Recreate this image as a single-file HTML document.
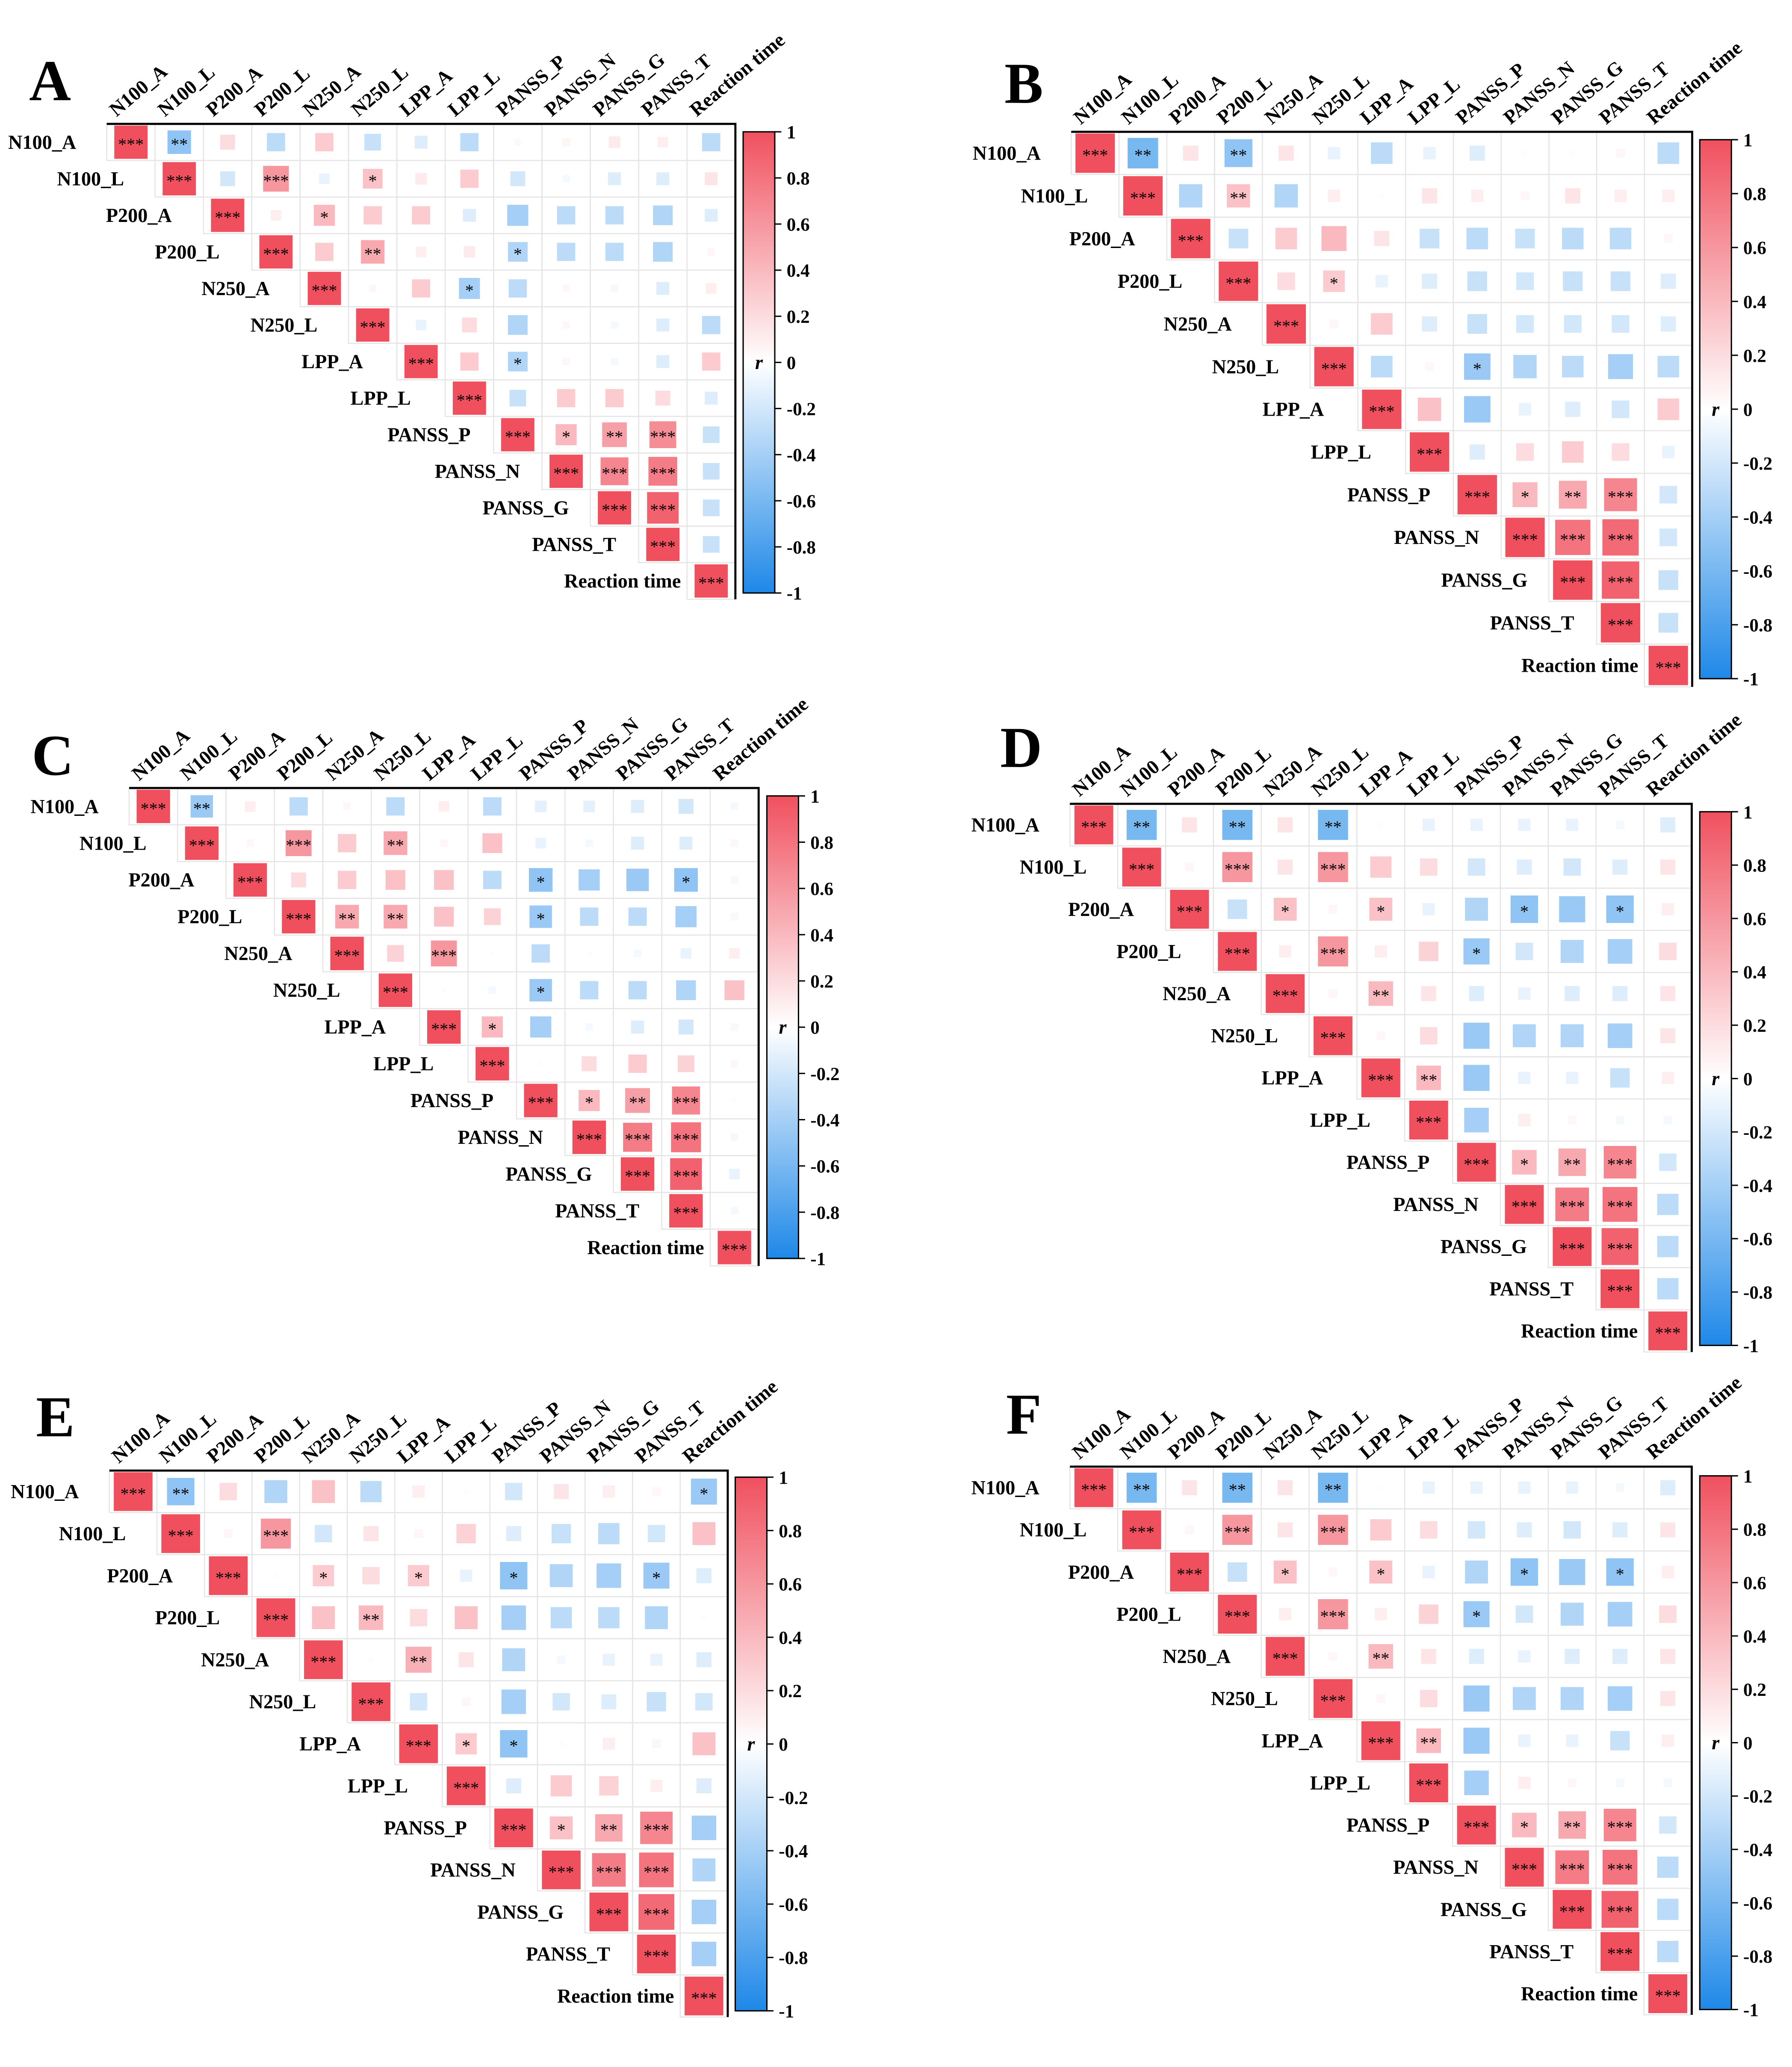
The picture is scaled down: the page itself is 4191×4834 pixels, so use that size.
<!DOCTYPE html>
<html><head><meta charset="utf-8"><style>
html,body{margin:0;padding:0;background:#fff;}
svg{display:block;}
text{font-family:"Liberation Serif",serif;}
</style></head><body>
<svg id="fig" xmlns="http://www.w3.org/2000/svg" width="4191" height="4834" viewBox="0 0 1360 1568.6">
<defs>
<linearGradient id="cbgrad" x1="0" y1="0" x2="0" y2="1">
<stop offset="0" stop-color="#f0505e"/><stop offset="0.5" stop-color="#ffffff"/><stop offset="1" stop-color="#1e88e8"/>
</linearGradient>
</defs>
</svg>
<script>
const variables = ["N100_A","N100_L","P200_A","P200_L","N250_A","N250_L","LPP_A","LPP_L","PANSS_P","PANSS_N","PANSS_G","PANSS_T","Reaction time"];
const colorbarTicks = [1,0.8,0.6,0.4,0.2,0,-0.2,-0.4,-0.6,-0.8,-1];
const panelLetters = ["A","B","C","D","E","F"];

const rA = [
[-0.5,0.2,-0.3,0.3,-0.25,-0.15,-0.3,0.04,0.06,0.12,0.1,-0.3],
[-0.2,0.6,-0.1,0.35,0.12,0.3,-0.2,-0.05,-0.15,-0.15,0.15],
[0.1,0.4,0.3,0.3,-0.15,-0.4,-0.3,-0.3,-0.35,-0.15],
[0.3,0.5,0.1,0.12,-0.35,-0.3,-0.3,-0.35,0.05],
[0.05,0.3,-0.4,-0.3,0.05,-0.05,-0.15,0.1],
[-0.1,0.2,-0.35,0.05,-0.05,-0.15,-0.3],
[0.3,-0.35,0.05,-0.05,-0.15,0.3],
[-0.25,0.3,0.3,0.2,-0.15],
[0.4,0.55,0.65,-0.25],
[0.7,0.75,-0.25],
[0.9,-0.25],
[-0.25]];
const rB = [
[-0.6,0.15,-0.5,0.15,-0.1,-0.3,-0.1,-0.15,0.02,0.02,0.05,-0.3],
[-0.35,0.35,-0.35,0.1,0.02,0.15,0.1,0.05,0.15,0.1,0.1],
[-0.25,0.3,0.4,0.15,-0.25,-0.3,-0.25,-0.3,-0.3,0.05],
[0.2,0.3,-0.1,-0.15,-0.25,-0.2,-0.25,-0.25,-0.15],
[0.05,0.3,-0.15,-0.25,-0.2,-0.2,-0.2,-0.15],
[-0.3,0.05,-0.45,-0.35,-0.3,-0.4,-0.3],
[0.35,-0.45,-0.1,-0.15,-0.2,0.3],
[-0.15,0.2,0.3,0.2,-0.1],
[0.4,0.5,0.7,-0.2],
[0.8,0.85,-0.2],
[0.9,-0.25],
[-0.25]];
const rC = [
[-0.45,0.1,-0.3,0.05,-0.3,0.1,-0.3,-0.12,-0.12,-0.15,-0.2,-0.05],
[0.05,0.6,0.3,0.5,0.05,0.35,-0.1,-0.05,-0.15,-0.15,0.05],
[0.2,0.3,0.35,0.35,-0.3,-0.5,-0.4,-0.45,-0.5,-0.05],
[0.5,0.5,0.35,0.25,-0.45,-0.3,-0.3,-0.4,0.05],
[0.25,0.6,0.02,-0.3,0.02,-0.05,-0.1,0.1],
[0.02,-0.05,-0.45,-0.3,-0.3,-0.35,0.35],
[0.4,-0.4,-0.05,-0.15,-0.2,0.05],
[0.02,0.2,0.3,0.25,0.05],
[0.4,0.55,0.7,0.02],
[0.75,0.8,-0.05],
[0.9,-0.1],
[-0.05]];
const rD = [
[-0.6,0.15,-0.6,0.15,-0.6,0.02,-0.1,-0.1,-0.1,-0.1,-0.05,-0.15],
[0.05,0.6,0.15,0.6,0.3,0.2,-0.2,-0.15,-0.2,-0.15,0.15],
[-0.25,0.35,0.05,0.35,-0.1,-0.35,-0.5,-0.45,-0.5,0.1],
[0.1,0.6,0.1,0.25,-0.45,-0.2,-0.35,-0.4,0.2],
[0.05,0.4,0.15,-0.15,-0.1,-0.15,-0.15,0.15],
[0.05,0.2,-0.45,-0.35,-0.35,-0.4,0.15],
[0.4,-0.45,-0.1,-0.1,-0.25,0.1],
[-0.4,0.1,0.05,-0.05,-0.05],
[0.4,0.5,0.7,-0.2],
[0.75,0.8,-0.3],
[0.9,-0.3],
[-0.3]];
const rE = [
[-0.5,0.2,-0.35,0.35,-0.3,0.1,0.02,-0.2,0.15,0.1,0.05,-0.45],
[0.05,0.6,-0.2,0.15,0.05,0.25,-0.15,-0.25,-0.3,-0.2,0.35],
[0.02,0.3,0.2,0.3,-0.1,-0.5,-0.35,-0.4,-0.45,-0.15],
[0.35,0.4,0.2,0.35,-0.4,-0.3,-0.3,-0.35,0.02],
[0.02,0.45,0.15,-0.35,-0.05,-0.1,-0.1,-0.15],
[-0.2,0.05,-0.4,-0.2,-0.15,-0.25,-0.2],
[0.3,-0.5,0.02,0.1,-0.05,0.35],
[-0.15,0.3,0.25,0.1,-0.15],
[0.35,0.5,0.7,-0.4],
[0.75,0.8,-0.35],
[0.85,-0.4],
[-0.4]];
const rF = [
[-0.6,0.15,-0.6,0.15,-0.6,0.02,-0.1,-0.1,-0.1,-0.1,-0.05,-0.15],
[0.05,0.6,0.15,0.6,0.3,0.2,-0.2,-0.15,-0.2,-0.15,0.15],
[-0.25,0.35,0.05,0.35,-0.1,-0.35,-0.5,-0.45,-0.5,0.1],
[0.1,0.6,0.1,0.25,-0.45,-0.2,-0.35,-0.4,0.2],
[0.05,0.4,0.15,-0.15,-0.1,-0.15,-0.15,0.15],
[0.05,0.2,-0.45,-0.35,-0.35,-0.4,0.15],
[0.4,-0.45,-0.1,-0.1,-0.25,0.1],
[-0.4,0.1,0.05,-0.05,-0.05],
[0.4,0.5,0.7,-0.2],
[0.75,0.8,-0.3],
[0.9,-0.3],
[-0.3]];
const sigA = [[0,1,"**"],[1,3,"***"],[1,5,"*"],[2,4,"*"],[3,5,"**"],[3,8,"*"],[4,7,"*"],[6,8,"*"],[8,9,"*"],[8,10,"**"],[8,11,"***"],[9,10,"***"],[9,11,"***"],[10,11,"***"]];
const sigB = [[0,1,"**"],[0,3,"**"],[1,3,"**"],[3,5,"*"],[5,8,"*"],[8,9,"*"],[8,10,"**"],[8,11,"***"],[9,10,"***"],[9,11,"***"],[10,11,"***"]];
const sigC = [[0,1,"**"],[1,3,"***"],[1,5,"**"],[2,8,"*"],[2,11,"*"],[3,4,"**"],[3,5,"**"],[3,8,"*"],[4,6,"***"],[5,8,"*"],[6,7,"*"],[8,9,"*"],[8,10,"**"],[8,11,"***"],[9,10,"***"],[9,11,"***"],[10,11,"***"]];
const sigD = [[0,1,"**"],[0,3,"**"],[0,5,"**"],[1,3,"***"],[1,5,"***"],[2,4,"*"],[2,6,"*"],[2,9,"*"],[2,11,"*"],[3,5,"***"],[3,8,"*"],[4,6,"**"],[6,7,"**"],[8,9,"*"],[8,10,"**"],[8,11,"***"],[9,10,"***"],[9,11,"***"],[10,11,"***"]];
const sigE = [[0,1,"**"],[0,12,"*"],[1,3,"***"],[2,4,"*"],[2,6,"*"],[2,8,"*"],[2,11,"*"],[3,5,"**"],[4,6,"**"],[6,7,"*"],[6,8,"*"],[8,9,"*"],[8,10,"**"],[8,11,"***"],[9,10,"***"],[9,11,"***"],[10,11,"***"]];
const sigF = [[0,1,"**"],[0,3,"**"],[0,5,"**"],[1,3,"***"],[1,5,"***"],[2,4,"*"],[2,6,"*"],[2,9,"*"],[2,11,"*"],[3,5,"***"],[3,8,"*"],[4,6,"**"],[6,7,"**"],[8,9,"*"],[8,10,"**"],[8,11,"***"],[9,10,"***"],[9,11,"***"],[10,11,"***"]];

const panelR = [rA,rB,rC,rD,rE,rF];
const panelSig = [sigA,sigB,sigC,sigD,sigE,sigF];
const layouts = [
 {lx:38,ly:76,gx:81,gy:94,cw:36.7,ch:27.75,cb:564,cb0:100,cb1:450},
 {lx:777,ly:78,gx:813,gy:100,cw:36.25,ch:32.4,cb:1290,cb0:106,cb1:515},
 {lx:40,ly:588,gx:98,gy:598,cw:36.75,ch:27.9,cb:582,cb0:604,cb1:955},
 {lx:775,ly:582,gx:812,gy:610,cw:36.3,ch:32,cb:1290,cb0:616,cb1:1021},
 {lx:42,ly:1090,gx:83,gy:1116,cw:36.1,ch:31.9,cb:558,cb0:1121,cb1:1526},
 {lx:777,ly:1088,gx:812,gy:1113,cw:36.3,ch:32,cb:1290,cb0:1120,cb1:1525}
];
const NS="http://www.w3.org/2000/svg";
const svg=document.getElementById('fig');
function mk(tag,attrs,parent){const e=document.createElementNS(NS,tag);for(const k in attrs)e.setAttribute(k,attrs[k]);parent.appendChild(e);return e;}
function col(v){
  const w=[255,255,255],red=[240,80,94],blue=[30,136,232];
  const t=Math.min(1,Math.abs(v)),c=v>=0?red:blue;
  return 'rgb('+w.map((x,i)=>Math.round(x+(c[i]-x)*t)).join(',')+')';
}
panelR.forEach((R,p)=>{
  const L=layouts[p];
  const g=mk('g',{},svg);
  
  
  const xc=j=>L.gx+L.cw*(j+0.5), yc=i=>L.gy+L.ch*(i+0.5);
  const letter=mk('text',{x:L.lx,y:L.ly,'font-size':44,'font-weight':'bold','text-anchor':'middle'},g);
  letter.textContent=panelLetters[p];
  
  
  const n=variables.length, side=Math.min(L.cw,L.ch)-2.5;
  for(let i=0;i<n;i++)for(let j=i;j<n;j++){
    const c=mk('rect',{x:L.gx+L.cw*j,y:L.gy+L.ch*i,width:L.cw,height:L.ch,fill:'none',stroke:'#e4e4e4','stroke-width':0.8},g);
    
    
  }
  const fr=mk('path',{d:`M${L.gx} ${L.gy}H${L.gx+L.cw*n}V${L.gy+L.ch*n}`,fill:'none',stroke:'#000','stroke-width':1.6},g);
  
  
  const sigMap={};panelSig[p].forEach(s=>sigMap[s[0]+'_'+s[1]]=s[2]);
  for(let i=0;i<n;i++){
    for(let j=i;j<n;j++){
      const v=i===j?1:R[i][j-i-1];
      const s=side*Math.sqrt(Math.abs(v));
      const sq=mk('rect',{x:xc(j)-s/2,y:yc(i)-s/2,width:s,height:s,fill:col(v)},g);
      
      
      const st=i===j?'***':sigMap[i+'_'+j];
      if(st){
        const t=mk('text',{x:xc(j),y:yc(i)+6,'font-size':13,'text-anchor':'middle'},g);
        t.textContent=st;
        
        
      }
    }
    const rl=mk('text',{x:L.gx+L.cw*i-49,y:yc(i)+5,'font-size':15,'font-weight':'bold','text-anchor':'middle'},g);
    rl.textContent=variables[i];
    
    
    const cx=xc(i)-11, cy=L.gy-5;
    const cl=mk('text',{x:cx,y:cy,'font-size':15,'font-weight':'bold',transform:`rotate(-40 ${cx} ${cy})`},g);
    cl.textContent=variables[i];
    
    
  }
  const cb=mk('rect',{x:L.cb,y:L.cb0,width:24,height:L.cb1-L.cb0,fill:'url(#cbgrad)',stroke:'#000','stroke-width':1},g);
  
  
  const ty=v=>L.cb0+(1-v)/2*(L.cb1-L.cb0);
  colorbarTicks.forEach(v=>{
    const tk=mk('line',{x1:L.cb+24,x2:L.cb+29,y1:ty(v),y2:ty(v),stroke:'#000','stroke-width':1},g);
    
    
    const tl=mk('text',{x:L.cb+33,y:ty(v)+5,'font-size':14,'font-weight':'bold'},g);
    tl.textContent=String(v);
    
    
  });
  const rt=mk('text',{x:L.cb+12,y:ty(0)+5,'font-size':15,'font-style':'italic','font-weight':'bold','text-anchor':'middle'},g);
  rt.textContent='r';
  
  
});
</script>
</body></html>
